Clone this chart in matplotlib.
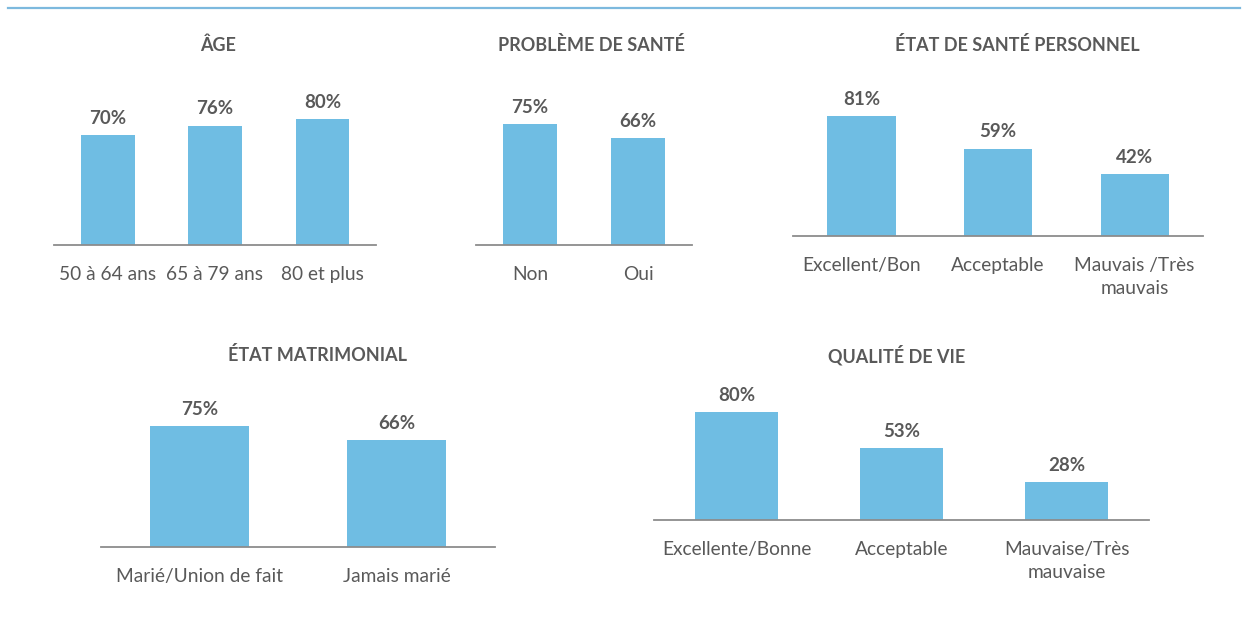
import matplotlib
matplotlib.use("Agg")
import matplotlib.pyplot as plt
from matplotlib.lines import Line2D

plt.rcParams['font.family'] = ['Lato', 'DejaVu Sans']

W, H = 1250, 628

# ---- data ----
age_labels = ["50 à 64 ans", "65 à 79 ans", "80 et plus"]
age_values = [70, 76, 80]

probleme_labels = ["Non", "Oui"]
probleme_values = [75, 66]

etat_sante_labels = ["Excellent/Bon", "Acceptable", "Mauvais /Très\nmauvais"]
etat_sante_values = [81, 59, 42]

matrimonial_labels = ["Marié/Union de fait", "Jamais marié"]
matrimonial_values = [75, 66]

qualite_labels = ["Excellente/Bonne", "Acceptable", "Mauvaise/Très\nmauvaise"]
qualite_values = [80, 53, 28]

titles = ["ÂGE", "PROBLÈME DE SANTÉ", "ÉTAT DE SANTÉ PERSONNEL",
          "ÉTAT MATRIMONIAL", "QUALITÉ DE VIE"]

BAR = "#6FBDE3"
TXT = "#595959"
AXC = "#8C8C8C"

fig = plt.figure(figsize=(W / 100, H / 100), dpi=100)

# top rule
fig.add_artist(Line2D([8 / W, 1240 / W], [1 - 8 / H, 1 - 8 / H],
                      color="#7DB9DE", lw=1.6))

# (x0, x1, baseline_y, px per %, title_x, title_y)
panels = [
    (54, 376, 245, 1.571, 218, 45, age_labels, age_values),
    (476, 692, 245, 1.615, 591, 45, probleme_labels, probleme_values),
    (793, 1203, 236, 1.48, 1017, 45, etat_sante_labels, etat_sante_values),
    (101, 495, 547, 1.615, 318, 355, matrimonial_labels, matrimonial_values),
    (654, 1149, 520, 1.35, 897, 355, qualite_labels, qualite_values),
]

for (x0, x1, yb, sc, tx, ty, labels, values), title in zip(panels, titles):
    hpx = 100 * sc
    ax = fig.add_axes([x0 / W, 1 - yb / H, (x1 - x0) / W, hpx / H])
    xs = list(range(len(values)))
    ax.bar(xs, values, width=0.5, color=BAR)
    ax.set_xlim(-0.5, len(values) - 0.5)
    ax.set_ylim(0, 100)
    for s in ("top", "left", "right"):
        ax.spines[s].set_visible(False)
    ax.spines["bottom"].set_color(AXC)
    ax.spines["bottom"].set_linewidth(1.3)
    ax.set_yticks([])
    ax.set_xticks(xs)
    ax.set_xticklabels(labels, fontsize=13.8, color=TXT, linespacing=1.45)
    ax.tick_params(axis="x", length=0, pad=15)
    for x, v in zip(xs, values):
        ax.annotate(f"{v}%", (x, v), xytext=(0, 6), textcoords="offset points",
                    ha="center", va="bottom", fontsize=13.5, fontweight="bold",
                    color=TXT)
    fig.text(tx / W, 1 - ty / H, title, ha="center", va="center",
             fontsize=13, fontweight="bold", color=TXT)

fig.savefig("out.png", dpi=100)
